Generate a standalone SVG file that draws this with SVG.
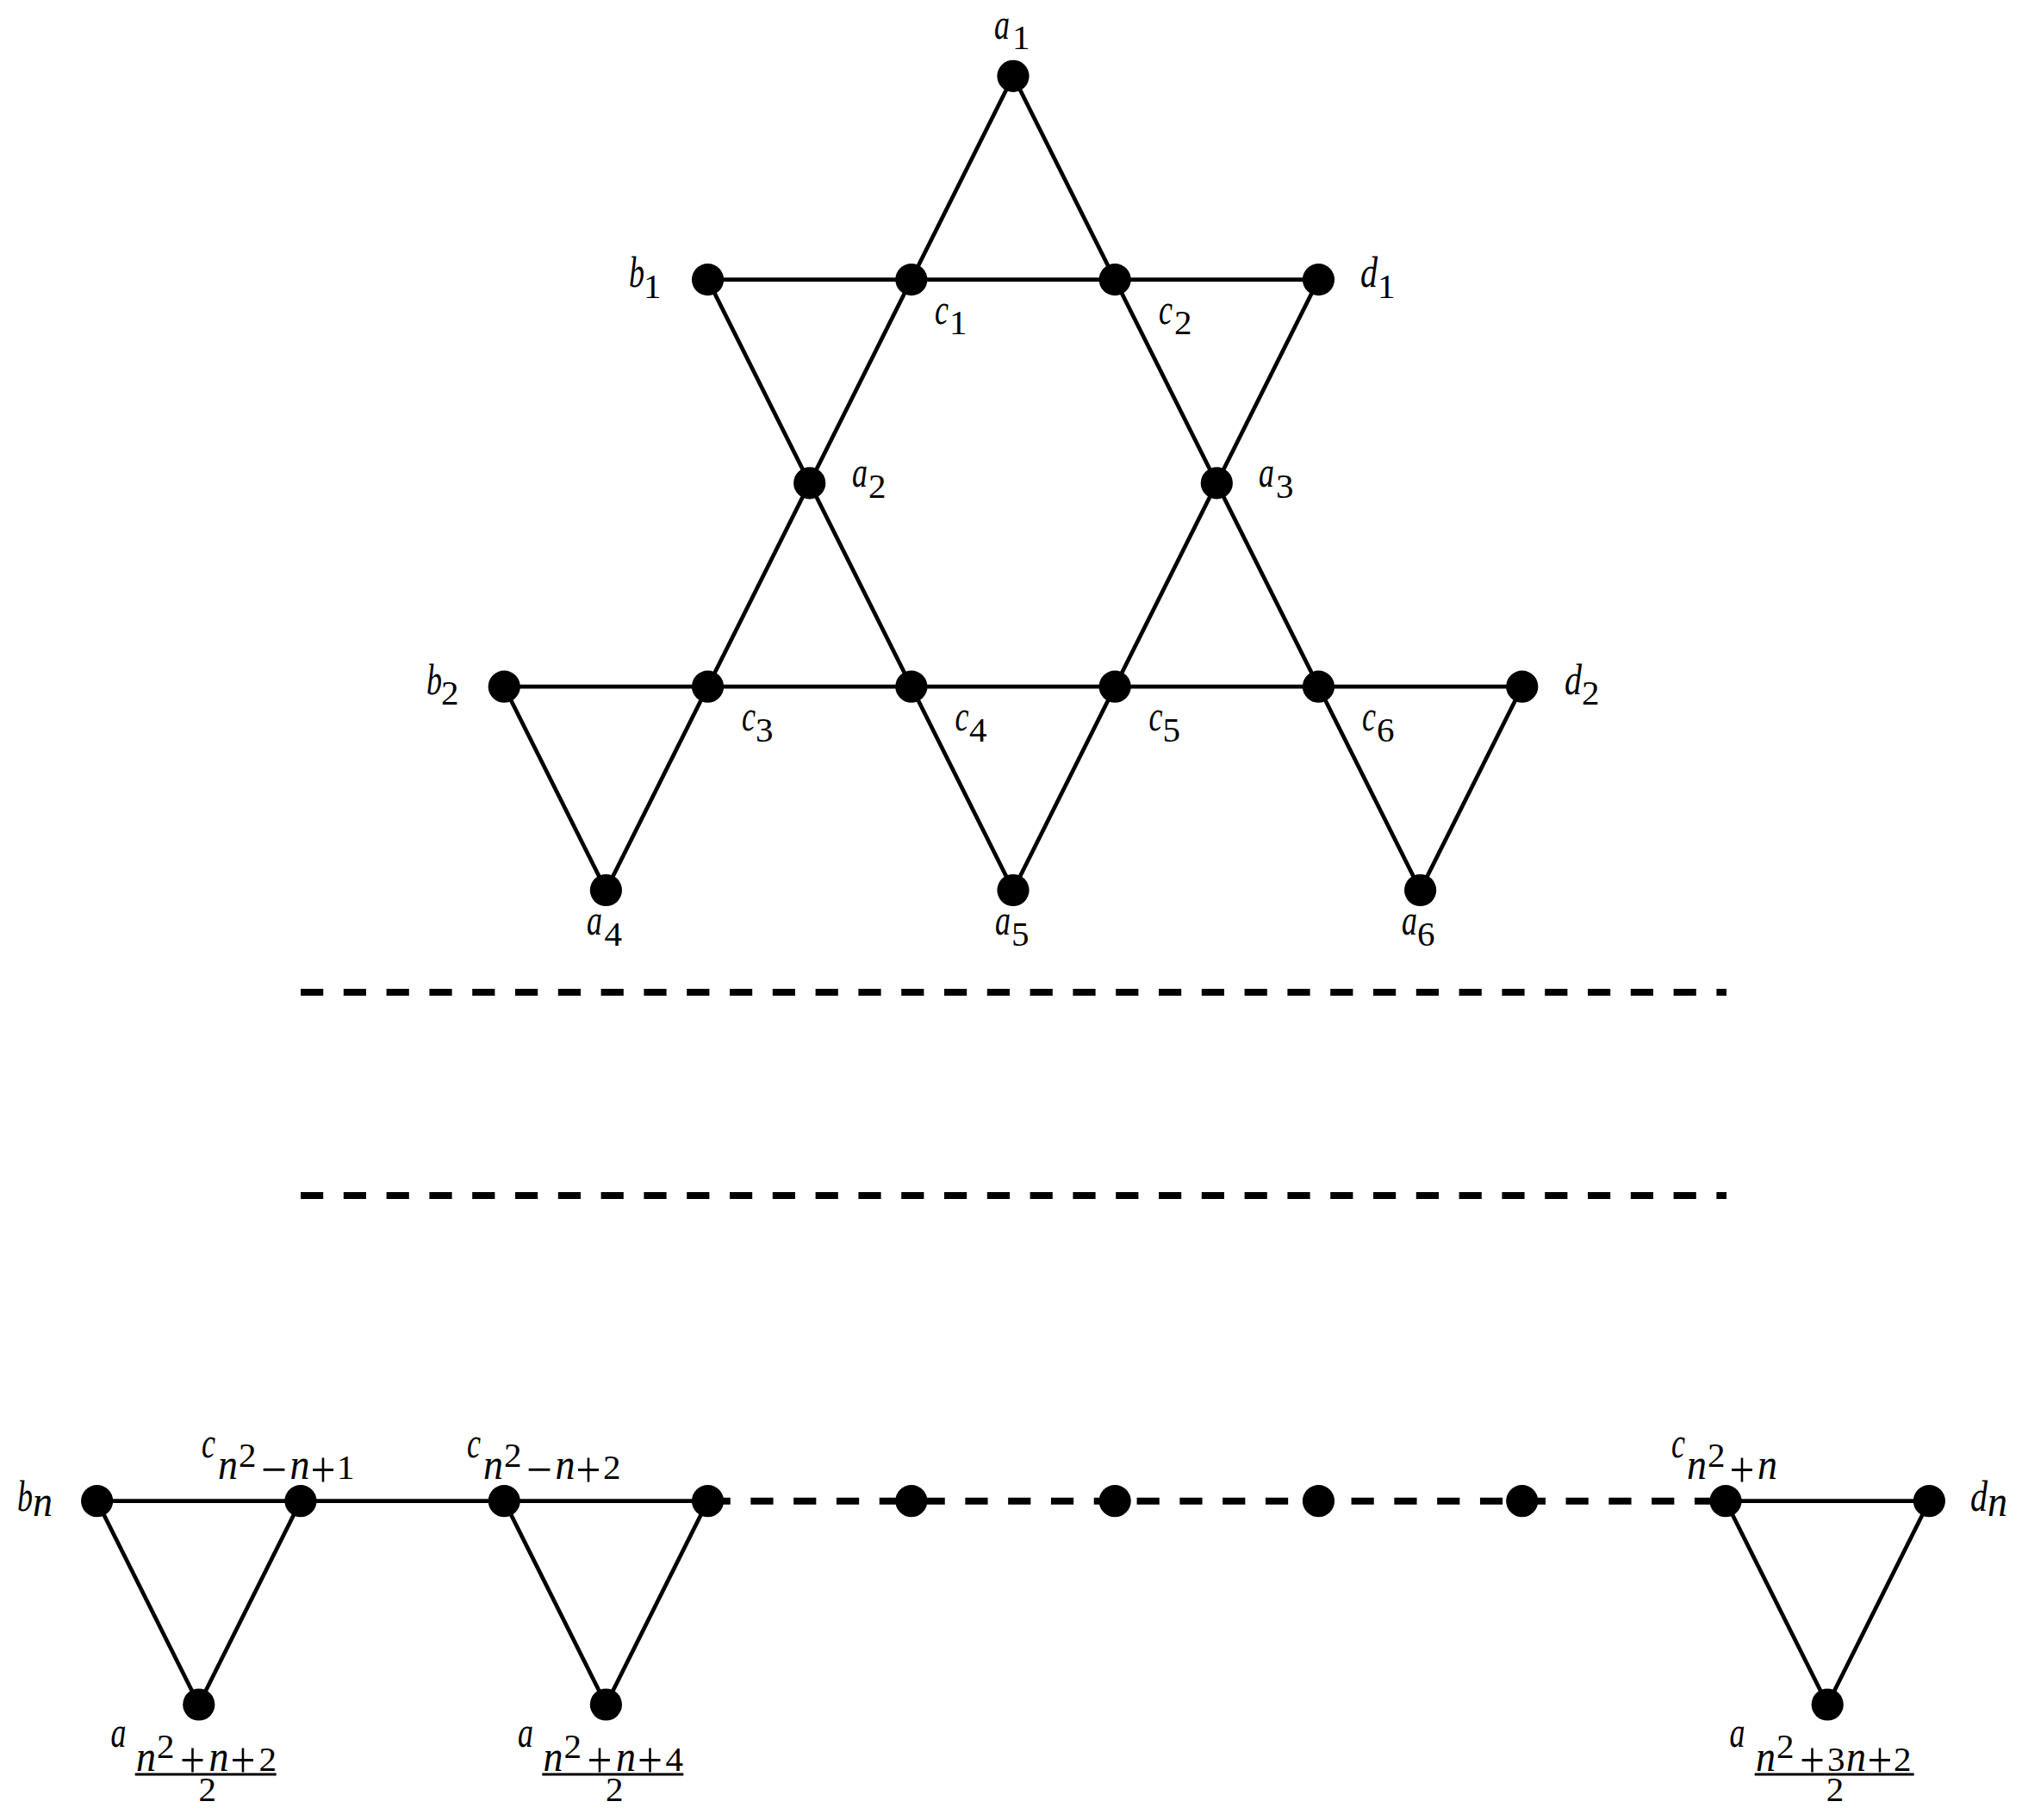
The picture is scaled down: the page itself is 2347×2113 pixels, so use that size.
<svg xmlns="http://www.w3.org/2000/svg" width="2347" height="2113" viewBox="0 0 2347 2113">
<style>
text{font-family:"Liberation Serif","Times New Roman",serif;fill:#000}
.m{font-size:50px;font-style:italic}
.s{font-size:50px;font-style:italic}
.d{font-size:41px;font-style:normal}
.o{font-size:60px;font-style:normal}
.e{fill:none;stroke:#000;stroke-width:4.7}
.h{fill:none;stroke:#000;stroke-width:8;stroke-dasharray:26.2 23.6}
.b{stroke:#000;stroke-width:3.2}
circle{fill:#000}
</style>
<rect width="2347" height="2113" fill="#fff"/>
<g id="connectors">
<path class="e" d="M1176 88.3L703.4 1033.5M1176 88.3L1648.6 1033.5M821.55 324.6L1176 1033.5M1530.45 324.6L1176 1033.5M821.55 324.6H1530.45M585.25 797.2H1766.75M585.25 797.2L703.4 1033.5M1766.75 797.2L1648.6 1033.5"/>
<path class="e" d="M112.65 1742.7H821.55M112.65 1742.7L230.8 1979L348.95 1742.7M585.25 1742.7L703.4 1979L821.55 1742.7M2003 1742.7H2239.35M2003 1742.7L2121.2 1979L2239.35 1742.7"/>
<path class="h" d="M349 1152H2004M349 1388H2004M821.55 1742.7H2003"/>
</g>
<g id="a1"><circle cx="1176" cy="88.3" r="18.6"/><text class="m"><tspan x="1154" y="45" textLength="18" lengthAdjust="spacingAndGlyphs">a</tspan><tspan class="d" x="1175" y="57">1</tspan></text></g>
<g id="b1"><circle cx="821.55" cy="324.6" r="18.6"/><text class="m"><tspan x="730" y="333" textLength="18" lengthAdjust="spacingAndGlyphs">b</tspan><tspan class="d" x="747" y="346">1</tspan></text></g>
<g id="c1"><circle cx="1057.85" cy="324.6" r="18.6"/><text class="m"><tspan x="1085" y="376" textLength="16" lengthAdjust="spacingAndGlyphs">c</tspan><tspan class="d" x="1102" y="388">1</tspan></text></g>
<g id="c2"><circle cx="1294.15" cy="324.6" r="18.6"/><text class="m"><tspan x="1345" y="376" textLength="16" lengthAdjust="spacingAndGlyphs">c</tspan><tspan class="d" x="1363" y="388">2</tspan></text></g>
<g id="d1"><circle cx="1530.45" cy="324.6" r="18.6"/><text class="m"><tspan x="1579" y="333" textLength="20" lengthAdjust="spacingAndGlyphs">d</tspan><tspan class="d" x="1599" y="346">1</tspan></text></g>
<g id="a2"><circle cx="939.7" cy="560.9" r="18.6"/><text class="m"><tspan x="989" y="564.5" textLength="18" lengthAdjust="spacingAndGlyphs">a</tspan><tspan class="d" x="1008" y="577.5">2</tspan></text></g>
<g id="a3"><circle cx="1412.3" cy="560.9" r="18.6"/><text class="m"><tspan x="1461" y="564.5" textLength="18" lengthAdjust="spacingAndGlyphs">a</tspan><tspan class="d" x="1481" y="577.5">3</tspan></text></g>
<g id="b2"><circle cx="585.25" cy="797.2" r="18.6"/><text class="m"><tspan x="495" y="806" textLength="18" lengthAdjust="spacingAndGlyphs">b</tspan><tspan class="d" x="512" y="818">2</tspan></text></g>
<g id="c3"><circle cx="821.55" cy="797.2" r="18.6"/><text class="m"><tspan x="861" y="848" textLength="16" lengthAdjust="spacingAndGlyphs">c</tspan><tspan class="d" x="877" y="861">3</tspan></text></g>
<g id="c4"><circle cx="1057.85" cy="797.2" r="18.6"/><text class="m"><tspan x="1108.5" y="848" textLength="16" lengthAdjust="spacingAndGlyphs">c</tspan><tspan class="d" x="1125" y="861">4</tspan></text></g>
<g id="c5"><circle cx="1294.15" cy="797.2" r="18.6"/><text class="m"><tspan x="1333.5" y="848" textLength="16" lengthAdjust="spacingAndGlyphs">c</tspan><tspan class="d" x="1349.5" y="861">5</tspan></text></g>
<g id="c6"><circle cx="1530.45" cy="797.2" r="18.6"/><text class="m"><tspan x="1581" y="848" textLength="16" lengthAdjust="spacingAndGlyphs">c</tspan><tspan class="d" x="1598" y="861">6</tspan></text></g>
<g id="d2"><circle cx="1766.75" cy="797.2" r="18.6"/><text class="m"><tspan x="1816" y="806" textLength="20" lengthAdjust="spacingAndGlyphs">d</tspan><tspan class="d" x="1836" y="818">2</tspan></text></g>
<g id="a4"><circle cx="703.4" cy="1033.5" r="18.6"/><text class="m"><tspan x="681" y="1085" textLength="18" lengthAdjust="spacingAndGlyphs">a</tspan><tspan class="d" x="701.5" y="1097.7">4</tspan></text></g>
<g id="a5"><circle cx="1176" cy="1033.5" r="18.6"/><text class="m"><tspan x="1155" y="1085" textLength="18" lengthAdjust="spacingAndGlyphs">a</tspan><tspan class="d" x="1174" y="1097.7">5</tspan></text></g>
<g id="a6"><circle cx="1648.6" cy="1033.5" r="18.6"/><text class="m"><tspan x="1627" y="1085" textLength="18" lengthAdjust="spacingAndGlyphs">a</tspan><tspan class="d" x="1645" y="1097.7">6</tspan></text></g>
<g id="bn"><circle cx="112.65" cy="1742.7" r="18.6"/><text class="m"><tspan x="20" y="1754" textLength="18" lengthAdjust="spacingAndGlyphs">b</tspan><tspan class="s" x="38" y="1760" textLength="23" lengthAdjust="spacingAndGlyphs">n</tspan></text></g>
<g id="c-n2-n1"><circle cx="348.95" cy="1742.7" r="18.6"/><text class="m"><tspan x="234" y="1691.5" textLength="16" lengthAdjust="spacingAndGlyphs">c</tspan><tspan class="s" x="253" y="1717" textLength="23" lengthAdjust="spacingAndGlyphs">n</tspan><tspan class="d" x="277" y="1703">2</tspan><tspan class="o" x="303" y="1725.5" textLength="30" lengthAdjust="spacingAndGlyphs">−</tspan><tspan class="s" x="336.5" y="1717" textLength="23" lengthAdjust="spacingAndGlyphs">n</tspan><tspan class="o" x="360.5" y="1725.5" textLength="29" lengthAdjust="spacingAndGlyphs">+</tspan><tspan class="d" x="391" y="1717">1</tspan></text></g>
<g id="c-n2-n2"><circle cx="585.25" cy="1742.7" r="18.6"/><text class="m"><tspan x="542" y="1691.5" textLength="16" lengthAdjust="spacingAndGlyphs">c</tspan><tspan class="s" x="561" y="1717" textLength="23" lengthAdjust="spacingAndGlyphs">n</tspan><tspan class="d" x="585" y="1703">2</tspan><tspan class="o" x="611" y="1725.5" textLength="30" lengthAdjust="spacingAndGlyphs">−</tspan><tspan class="s" x="644.5" y="1717" textLength="23" lengthAdjust="spacingAndGlyphs">n</tspan><tspan class="o" x="668.5" y="1725.5" textLength="29" lengthAdjust="spacingAndGlyphs">+</tspan><tspan class="d" x="700" y="1717">2</tspan></text></g>
<g id="n4"><circle cx="821.55" cy="1742.7" r="18.6"/></g>
<g id="n5"><circle cx="1057.85" cy="1742.7" r="18.6"/></g>
<g id="n6"><circle cx="1294.15" cy="1742.7" r="18.6"/></g>
<g id="n7"><circle cx="1530.45" cy="1742.7" r="18.6"/></g>
<g id="n8"><circle cx="1766.75" cy="1742.7" r="18.6"/></g>
<g id="c-n2-n"><circle cx="2003" cy="1742.7" r="18.6"/><text class="m"><tspan x="1940" y="1691.5" textLength="16" lengthAdjust="spacingAndGlyphs">c</tspan><tspan class="s" x="1958" y="1717" textLength="23" lengthAdjust="spacingAndGlyphs">n</tspan><tspan class="d" x="1982" y="1703">2</tspan><tspan class="o" x="2007.5" y="1725.5" textLength="29" lengthAdjust="spacingAndGlyphs">+</tspan><tspan class="s" x="2040" y="1717" textLength="23" lengthAdjust="spacingAndGlyphs">n</tspan></text></g>
<g id="dn"><circle cx="2239.35" cy="1742.7" r="18.6"/><text class="m"><tspan x="2287" y="1754" textLength="20" lengthAdjust="spacingAndGlyphs">d</tspan><tspan class="s" x="2307" y="1760" textLength="23" lengthAdjust="spacingAndGlyphs">n</tspan></text></g>
<g id="a-first"><circle cx="230.8" cy="1979" r="18.6"/><text class="m"><tspan x="128.5" y="2028" textLength="18" lengthAdjust="spacingAndGlyphs">a</tspan><tspan class="s" x="158" y="2056" textLength="23" lengthAdjust="spacingAndGlyphs">n</tspan><tspan class="d" x="182" y="2041">2</tspan><tspan class="o" x="209" y="2063" textLength="29" lengthAdjust="spacingAndGlyphs">+</tspan><tspan class="s" x="242.5" y="2056" textLength="23" lengthAdjust="spacingAndGlyphs">n</tspan><tspan class="o" x="267.5" y="2063" textLength="29" lengthAdjust="spacingAndGlyphs">+</tspan><tspan class="d" x="300.5" y="2056">2</tspan><tspan class="d" x="230.5" y="2090.5">2</tspan></text><line class="b" x1="156.7" y1="2060" x2="320.7" y2="2060"/></g>
<g id="a-second"><circle cx="703.4" cy="1979" r="18.6"/><text class="m"><tspan x="601" y="2028" textLength="18" lengthAdjust="spacingAndGlyphs">a</tspan><tspan class="s" x="630.6" y="2056" textLength="23" lengthAdjust="spacingAndGlyphs">n</tspan><tspan class="d" x="654.6" y="2041">2</tspan><tspan class="o" x="681.6" y="2063" textLength="29" lengthAdjust="spacingAndGlyphs">+</tspan><tspan class="s" x="715.1" y="2056" textLength="23" lengthAdjust="spacingAndGlyphs">n</tspan><tspan class="o" x="740.1" y="2063" textLength="29" lengthAdjust="spacingAndGlyphs">+</tspan><tspan class="d" x="772.5" y="2056">4</tspan><tspan class="d" x="703" y="2090.5">2</tspan></text><line class="b" x1="629.3" y1="2060" x2="793.3" y2="2060"/></g>
<g id="a-last"><circle cx="2121.2" cy="1979" r="18.6"/><text class="m"><tspan x="2007.5" y="2028" textLength="18" lengthAdjust="spacingAndGlyphs">a</tspan><tspan class="s" x="2038" y="2056" textLength="23" lengthAdjust="spacingAndGlyphs">n</tspan><tspan class="d" x="2062" y="2041">2</tspan><tspan class="o" x="2089" y="2063" textLength="29" lengthAdjust="spacingAndGlyphs">+</tspan><tspan class="d" x="2121" y="2056">3</tspan><tspan class="s" x="2143" y="2056" textLength="23" lengthAdjust="spacingAndGlyphs">n</tspan><tspan class="o" x="2167.5" y="2063" textLength="29" lengthAdjust="spacingAndGlyphs">+</tspan><tspan class="d" x="2198" y="2056">2</tspan><tspan class="d" x="2119.7" y="2090.5">2</tspan></text><line class="b" x1="2036.7" y1="2060" x2="2221.7" y2="2060"/></g>
</svg>
